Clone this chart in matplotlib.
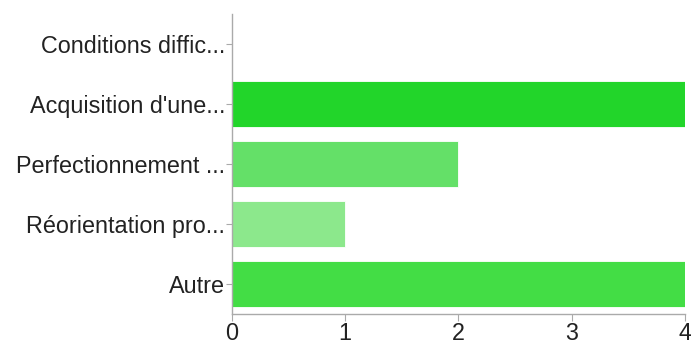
import matplotlib
matplotlib.use("Agg")
from matplotlib import pyplot as plt

plt.rcParams['font.family'] = ['Liberation Sans', 'DejaVu Sans']

# answers and counts
categories = ["Conditions diffic...", "Acquisition d'une...", "Perfectionnement ...",
              "Réorientation pro...", "Autre"]
counts = [0, 4, 2, 1, 4]
colors = ["#22d52a", "#22d52a", "#64e068", "#8ce88c", "#43dd45"]
xticks = [0, 1, 2, 3, 4]

fig = plt.figure(figsize=(6.91, 3.44), dpi=100)
ax = fig.add_axes([0.3357, 0.0872, 0.6556, 0.8721])

y = list(range(len(categories)))
ax.barh(y, counts, height=0.77, color=colors, edgecolor="white", linewidth=0.6)

ax.set_ylim(len(categories) - 0.5, -0.5)
ax.set_xlim(0, 4)
ax.set_yticks(y)
ax.set_yticklabels(categories, fontsize=16.8, color="#222222")
ax.set_xticks(xticks)
ax.set_xticklabels([str(t) for t in xticks], fontsize=16.8, color="#222222")

for side in ["top", "right"]:
    ax.spines[side].set_visible(False)
for side in ["left", "bottom"]:
    ax.spines[side].set_color("#aaaaaa")
    ax.spines[side].set_linewidth(1)
ax.tick_params(axis="x", length=5, color="#aaaaaa", pad=1)
ax.tick_params(axis="y", length=4, color="#aaaaaa", pad=1)

fig.savefig("out.png", dpi=100)
